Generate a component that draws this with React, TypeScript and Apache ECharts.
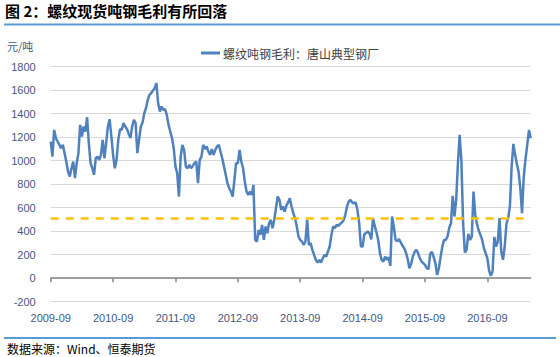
import React, { useEffect, useRef } from "react";
import * as echarts from "echarts";

// ---- texts ----
const chartTitle = "图 2：螺纹现货吨钢毛利有所回落";
const seriesName = "螺纹吨钢毛利：唐山典型钢厂";
const unitLabel = "元/吨";
const sourceText = "数据来源：Wind、恒泰期货";

// ---- axis settings ----
const yMin = -200;
const yMax = 1800;
const yStep = 200;
const startYear = 2009;
const startMonth = 9; // September
const pointsPerMonth = 3; // 上/中/下旬
const pointsPerYear = 36;
const dekadNames = ["上", "中", "下"];

// ---- reference level (dashed line) ----
const referenceLevel = 510;

// ---- series values (元/吨), one value per dekad, each block starts in September ----
const margin2009 = [1163, 1035, 1262, 1192, 1163, 1135, 1106, 1135, 1064, 993, 908, 865, 936, 993, 851, 979, 1064, 1305, 1206, 1291, 1248, 1370, 1149, 979, 936, 880, 1021, 1035, 1007, 1050, 1177, 1021, 1149, 1291, 1353, 1206];
const margin2010 = [1050, 936, 1007, 1177, 1268, 1262, 1320, 1291, 1270, 1230, 1192, 1291, 1348, 1320, 1064, 1177, 1291, 1325, 1404, 1447, 1518, 1560, 1575, 1597, 1617, 1660, 1489, 1419, 1461, 1433, 1438, 1390, 1305, 1248, 1192, 1106];
const margin2011 = [950, 894, 695, 1035, 1135, 1092, 950, 936, 965, 936, 956, 979, 993, 809, 1007, 1035, 1135, 1100, 1121, 1078, 1050, 1098, 1050, 1092, 1121, 1135, 1078, 1021, 950, 880, 809, 766, 738, 695, 837, 979];
const margin2012 = [979, 1092, 993, 936, 823, 738, 709, 738, 709, 794, 326, 312, 411, 369, 454, 326, 440, 383, 468, 496, 426, 496, 596, 695, 667, 582, 610, 567, 617, 645, 680, 610, 553, 511, 440, 355];
const margin2013 = [326, 312, 284, 312, 496, 284, 298, 241, 199, 156, 133, 156, 133, 170, 199, 184, 227, 270, 369, 440, 426, 454, 445, 462, 474, 491, 539, 610, 653, 667, 644, 638, 644, 582, 468, 270];
const margin2014 = [270, 375, 385, 397, 380, 330, 510, 445, 389, 326, 213, 156, 142, 184, 156, 179, 105, 525, 440, 326, 315, 332, 304, 278, 255, 218, 165, 85, 122, 184, 224, 241, 213, 170, 142, 128];
const margin2015 = [113, 85, 77, 207, 224, 179, 128, 28, 85, 179, 270, 326, 326, 355, 430, 468, 700, 525, 667, 979, 1220, 1000, 468, 218, 241, 377, 326, 355, 738, 539, 462, 406, 369, 326, 255, 213];
const margin2016 = [170, 65, 20, 57, 350, 270, 312, 511, 227, 156, 270, 462, 511, 610, 950, 1143, 1050, 973, 908, 766, 553, 865, 1013, 1135, 1262, 1192];

const values = [
  ...margin2009,
  ...margin2010,
  ...margin2011,
  ...margin2012,
  ...margin2013,
  ...margin2014,
  ...margin2015,
  ...margin2016,
];

const categories = values.map((_, i) => {
  const m = startMonth - 1 + Math.floor(i / pointsPerMonth);
  const y = startYear + Math.floor(m / 12);
  const mo = (m % 12) + 1;
  return `${y}-${String(mo).padStart(2, "0")}${dekadNames[i % pointsPerMonth]}`;
});

const axisTextColor = "#44587F";
const blue = "#4F81BD";
const frameBlue = "#5B9BD5";

export default function App() {
  const ref = useRef<HTMLDivElement>(null);

  useEffect(() => {
    if (!ref.current) return;
    const chart = echarts.init(ref.current, undefined, { renderer: "svg" });
    const isYearTick = (i: number) => i % pointsPerYear === 0;
    chart.setOption({
      animation: false,
      textStyle: { fontFamily: "'Liberation Sans', 'Noto Sans CJK SC', sans-serif" },
      grid: { left: 50.7, top: 66.7, width: 480, height: 235, containLabel: false },
      legend: {
        show: true,
        left: 196,
        top: 42,
        icon: "rect",
        itemWidth: 19,
        itemHeight: 3,
        itemGap: 10,
        textStyle: {
          fontSize: 12,
          color: "#404040",
          fontFamily: "'Noto Sans CJK SC', sans-serif",
          padding: [0, 0, 0, -2],
        },
        data: [seriesName],
      },
      xAxis: [
        {
          type: "category",
          data: categories,
          boundaryGap: false,
          axisLine: { show: true, onZero: true, lineStyle: { color: "#868686", width: 1.5 } },
          axisTick: {
            show: true,
            interval: (i: number) => isYearTick(i),
            length: 4,
            lineStyle: { color: "#868686", width: 1.5 },
          },
          axisLabel: { show: false },
          splitLine: { show: false },
        },
        {
          type: "category",
          data: categories,
          boundaryGap: false,
          position: "bottom",
          axisLine: { show: false, onZero: false },
          axisTick: { show: false },
          axisLabel: {
            show: true,
            interval: (i: number) => isYearTick(i),
            formatter: (v: string) => v.slice(0, 7),
            color: axisTextColor,
            fontSize: 11,
            margin: 11,
          },
          splitLine: { show: false },
        },
      ],
      yAxis: {
        type: "value",
        min: yMin,
        max: yMax,
        interval: yStep,
        axisLine: { show: false },
        axisTick: { show: false },
        axisLabel: {
          color: axisTextColor,
          fontSize: 11,
          margin: 15,
          formatter: (v: number) => String(v),
        },
        splitLine: { show: true, lineStyle: { color: "#D9D9D9", width: 1 } },
      },
      series: [
        {
          name: seriesName,
          type: "line",
          data: values,
          symbol: "none",
          lineStyle: { color: blue, width: 2.5 },
          itemStyle: { color: blue },
          markLine: {
            silent: true,
            symbol: "none",
            label: { show: false },
            lineStyle: { color: "#FFC000", width: 2.5, type: [8, 7] },
            data: [{ yAxis: referenceLevel }],
          },
        },
      ],
      graphic: [
        {
          type: "text",
          left: 5,
          top: 3,
          style: {
            text: chartTitle,
            fill: "#000000",
            font: "bold 15px 'Noto Sans CJK SC', sans-serif",
          },
        },
        {
          type: "line",
          shape: { x1: 4, y1: 24.5, x2: 560, y2: 24.5 },
          style: { stroke: frameBlue, lineWidth: 2 },
        },
        {
          type: "text",
          left: 7,
          top: 40,
          style: {
            text: unitLabel,
            fill: axisTextColor,
            font: "11px 'Noto Sans CJK SC', sans-serif",
          },
        },
        {
          type: "line",
          shape: { x1: 4, y1: 338, x2: 556, y2: 338 },
          style: { stroke: frameBlue, lineWidth: 2 },
        },
        {
          type: "text",
          left: 7,
          top: 342,
          style: {
            text: sourceText,
            fill: "#000000",
            font: "12px 'Noto Sans CJK SC', sans-serif",
          },
        },
      ],
    });
    return () => chart.dispose();
  }, []);

  return (
    <div
      ref={ref}
      style={{ position: "absolute", left: 0, top: 0, width: 560, height: 357 }}
    />
  );
}
